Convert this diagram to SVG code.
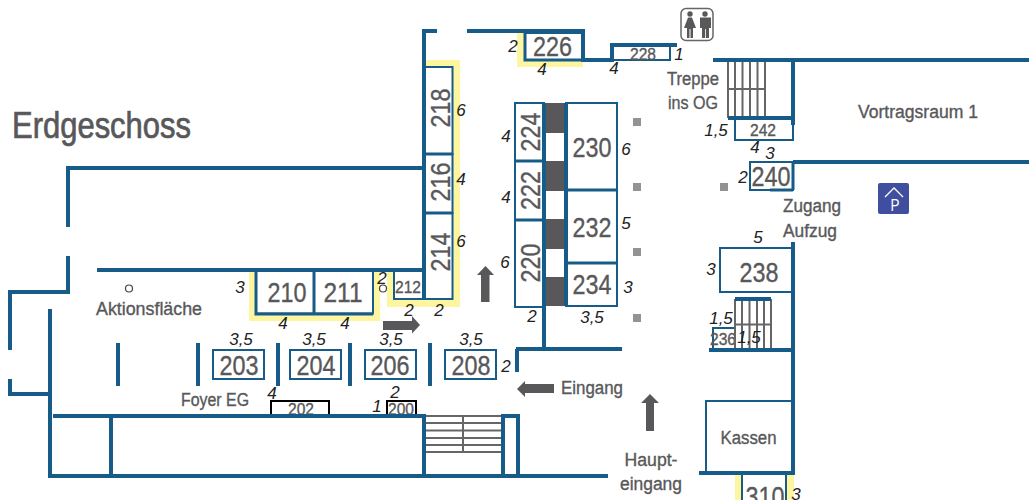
<svg xmlns="http://www.w3.org/2000/svg" width="1029" height="500" viewBox="0 0 1029 500">
<style>
text{font-family:"Liberation Sans",Arial,sans-serif;fill:#58585a;stroke:#58585a;stroke-width:.35}
.w{fill:none;stroke:#175c88;stroke-width:4}
.w3{fill:none;stroke:#175c88;stroke-width:3}
.r{fill:#fff;stroke:#175c88;stroke-width:2}
.k{fill:#fff;stroke:#000;stroke-width:2}
.s{fill:none;stroke:#666;stroke-width:2}
.y{fill:#fdf5a0}
.d{fill:#58585a}
.g{fill:#939393}
.n{font-size:27px;text-anchor:middle}
.m{font-size:17px;text-anchor:middle}
.l{font-size:18px;text-anchor:middle}
.c{font-size:17px;font-style:italic;fill:#222;stroke:none;text-anchor:middle}
</style>
<g id="yellow">
<path class="y" d="M249 271H380V321H249Z"/>
<path class="y" d="M387 271V307H460V60H425V271Z"/>
<path class="y" d="M517 33H583V67H517Z"/>
<path class="y" d="M735 475H794V500H735Z"/>
</g>
<g id="dark">
<rect class="d" x="546" y="103" width="18" height="30"/>
<rect class="d" x="546" y="161" width="18" height="30"/>
<rect class="d" x="546" y="219" width="18" height="30"/>
<rect class="d" x="546" y="277" width="18" height="29"/>
<rect class="g" x="633" y="118" width="8" height="8"/>
<rect class="g" x="633" y="183" width="8" height="8"/>
<rect class="g" x="633" y="248" width="8" height="8"/>
<rect class="g" x="633" y="314" width="8" height="8"/>
<rect class="g" x="720" y="183" width="8" height="8"/>
</g>
<g id="room-210"><rect class="r" x="256" y="270" width="58" height="43.500"/><text class="n" x="287" y="302" textLength="39" lengthAdjust="spacingAndGlyphs">210</text></g>
<g id="room-211"><rect class="r" x="314" y="270" width="59" height="43.500"/><text class="n" x="343" y="302" textLength="39" lengthAdjust="spacingAndGlyphs">211</text></g>
<g id="room-212"><rect class="r" x="394" y="271" width="30" height="28"/><text class="m" x="408" y="293" textLength="26" lengthAdjust="spacingAndGlyphs">212</text></g>
<g id="room-214"><rect class="r" x="424" y="213" width="28.500" height="86"/><text class="n" transform="translate(450 252) rotate(-90)" textLength="39" lengthAdjust="spacingAndGlyphs">214</text></g>
<g id="room-216"><rect class="r" x="424" y="154" width="28.500" height="59"/><text class="n" transform="translate(450 182) rotate(-90)" textLength="39" lengthAdjust="spacingAndGlyphs">216</text></g>
<g id="room-218"><rect class="r" x="424" y="67" width="28.500" height="87"/><text class="n" transform="translate(450 108) rotate(-90)" textLength="39" lengthAdjust="spacingAndGlyphs">218</text></g>
<g id="room-220"><rect class="r" x="515" y="220" width="29" height="87"/><text class="n" transform="translate(540 263) rotate(-90)" textLength="39" lengthAdjust="spacingAndGlyphs">220</text></g>
<g id="room-222"><rect class="r" x="515" y="161" width="29" height="59"/><text class="n" transform="translate(540 190.500) rotate(-90)" textLength="39" lengthAdjust="spacingAndGlyphs">222</text></g>
<g id="room-224"><rect class="r" x="515" y="103" width="29" height="58"/><text class="n" transform="translate(540 132) rotate(-90)" textLength="39" lengthAdjust="spacingAndGlyphs">224</text></g>
<g id="room-226"><rect class="r" x="525" y="33" width="58" height="27"/><text class="n" x="552.500" y="56" textLength="39" lengthAdjust="spacingAndGlyphs">226</text></g>
<g id="room-228"><rect class="r" x="612" y="46" width="58" height="14"/><text class="m" x="643" y="60" textLength="26" lengthAdjust="spacingAndGlyphs">228</text></g>
<g id="room-230"><rect class="r" x="566" y="103" width="51" height="87"/><text class="n" x="592" y="157" textLength="39" lengthAdjust="spacingAndGlyphs">230</text></g>
<g id="room-232"><rect class="r" x="566" y="190" width="51" height="73"/><text class="n" x="592" y="237" textLength="39" lengthAdjust="spacingAndGlyphs">232</text></g>
<g id="room-234"><rect class="r" x="566" y="263" width="51" height="43"/><text class="n" x="592" y="294" textLength="39" lengthAdjust="spacingAndGlyphs">234</text></g>
<g id="room-203"><rect class="r" x="213" y="350" width="51" height="29"/><text class="n" x="239" y="375" textLength="39" lengthAdjust="spacingAndGlyphs">203</text></g>
<g id="room-204"><rect class="r" x="290" y="350" width="51" height="29"/><text class="n" x="316" y="375" textLength="39" lengthAdjust="spacingAndGlyphs">204</text></g>
<g id="room-206"><rect class="r" x="365" y="350" width="51" height="29"/><text class="n" x="390" y="375" textLength="39" lengthAdjust="spacingAndGlyphs">206</text></g>
<g id="room-208"><rect class="r" x="445" y="350" width="51" height="29"/><text class="n" x="471" y="375" textLength="39" lengthAdjust="spacingAndGlyphs">208</text></g>
<g id="room-202"><rect class="k" x="271" y="401" width="58" height="15"/><text class="m" x="301" y="415" textLength="26" lengthAdjust="spacingAndGlyphs">202</text></g>
<g id="room-200"><rect class="k" x="387" y="401" width="29" height="15"/><text class="m" x="401" y="415" textLength="26" lengthAdjust="spacingAndGlyphs">200</text></g>
<g id="room-238"><rect class="r" x="720" y="248" width="73" height="44"/><text class="n" x="759" y="282" textLength="39" lengthAdjust="spacingAndGlyphs">238</text></g>
<g id="room-236"><rect class="r" x="713" y="328" width="22" height="22"/><text class="m" x="723" y="345" textLength="26" lengthAdjust="spacingAndGlyphs">236</text></g>
<g id="room-240"><rect class="r" x="750" y="162" width="43" height="28"/><text class="n" x="771" y="186" textLength="39" lengthAdjust="spacingAndGlyphs">240</text></g>
<g id="room-242"><rect class="r" x="735" y="118" width="58" height="22"/><text class="m" x="763" y="136" textLength="26" lengthAdjust="spacingAndGlyphs">242</text></g>
<g id="room-kassen"><rect class="r" x="706" y="401" width="87" height="72"/><text class="l" x="748.500" y="444" textLength="56" lengthAdjust="spacingAndGlyphs">Kassen</text></g>
<g id="room-310"><rect class="r" x="742" y="473" width="44" height="40"/><text class="n" x="765" y="506" textLength="39" lengthAdjust="spacingAndGlyphs">310</text></g>
<g id="stairs">
<path class="s" d="M424 416H503M424 423H503M424 430.500H503M424 438H503M424 445H503M424 452H503M463 416V452"/>
<path class="s" d="M728 60V118M735 60V118M742.500 60V118M750 60V118M757.500 60V118M765 60V118M728 89H765"/>
<path class="s" d="M735 299V350M742 299V350M749.500 299V350M757 299V350M764 299V350M771 299V350M735 324.500H771"/>
</g>
<g id="walls">
<path class="w" d="M68 227V168H424M68 256V292H10V350M10 379V394H50M50 309V476H608M53 416H424V476M111 416V476M97 270H424M424 300V31H437M467 31H583V60H612V45H677M713 60H1029M793 60V125M728 118H793M793 162H1029M793 242V475M735 299H771M709 350H793M699 473H793M544 103V349M566 103V306M516 349H622M517 349V372M503 474V416H518V474M118 343V386M198 343V386M278 343V386M350 343V386M430 343V386"/>
<path class="w3" d="M256 270V314H373M314 270V314M424 154H452M424 213H452M515 161H544M515 220H544M566 190H617M566 263H617M793 162V190M770 190H793M525 33V60H583"/>
</g>
<g id="arrows">
<path class="d" d="M481 302V275H477L485.500 266L494 275H489.500V302Z"/>
<path class="d" d="M383 321H412V316L420 325L412 333.500V330H383Z"/>
<path class="d" d="M554 384H525V381L517 389L525 397V393H554Z"/>
<path class="d" d="M646 431V403H641L650 394L659 403H654V431Z"/>
</g>
<g id="markers">
<circle cx="129" cy="288.500" r="3.500" fill="#fff" stroke="#444" stroke-width="1.200"/>
<circle cx="383" cy="288.500" r="3.500" fill="#fff" stroke="#444" stroke-width="1.200"/>
</g>
<g id="wc">
<rect x="681" y="8.500" width="32" height="32" rx="5" fill="#fff" stroke="#666" stroke-width="1.500"/>
<circle cx="690" cy="14" r="2.700" fill="#58585a"/><path class="d" d="M688 17.500H692L696 28H693V38H690.500V29H689.500V38H687V28H684Z"/>
<circle cx="705" cy="14" r="2.700" fill="#58585a"/><path class="d" d="M700 17.500H711V28H709V38H705.800V29H705V38H702V28H700Z"/>
</g>
<g id="parking">
<rect x="878" y="183" width="31" height="31" rx="2" fill="#3f4e9e"/>
<path d="M885 197L894 188L903 197" fill="none" stroke="#fff" stroke-width="1.300"/>
<text x="895" y="211" font-size="17" text-anchor="middle" style="fill:#fff;stroke:none" textLength="9" lengthAdjust="spacingAndGlyphs">P</text>
</g>
<g id="labels">
<text x="12" y="138" font-size="36" style="stroke-width:.7" textLength="179" lengthAdjust="spacingAndGlyphs">Erdgeschoss</text>
<text class="l" x="149" y="315" textLength="106" lengthAdjust="spacingAndGlyphs">Aktionsfläche</text>
<text class="l" x="215" y="406" textLength="68" lengthAdjust="spacingAndGlyphs">Foyer EG</text>
<text class="l" x="592" y="394" textLength="62" lengthAdjust="spacingAndGlyphs">Eingang</text>
<text class="l" x="651" y="466" textLength="53" lengthAdjust="spacingAndGlyphs">Haupt-</text>
<text class="l" x="651" y="490" textLength="62" lengthAdjust="spacingAndGlyphs">eingang</text>
<text class="l" x="693" y="85" textLength="52" lengthAdjust="spacingAndGlyphs">Treppe</text>
<text class="l" x="693" y="109" textLength="50" lengthAdjust="spacingAndGlyphs">ins OG</text>
<text class="l" x="812" y="212" textLength="58" lengthAdjust="spacingAndGlyphs">Zugang</text>
<text class="l" x="810" y="237" textLength="54" lengthAdjust="spacingAndGlyphs">Aufzug</text>
<text class="l" x="918" y="118" textLength="120" lengthAdjust="spacingAndGlyphs">Vortragsraum 1</text>
</g>
<g id="capacities">
<text class="c" x="240" y="293">3</text><text class="c" x="283" y="329">4</text><text class="c" x="345" y="329">4</text>
<text class="c" x="382" y="284">2</text><text class="c" x="409" y="316">2</text><text class="c" x="439" y="316">2</text>
<text class="c" x="461" y="116">6</text><text class="c" x="461" y="185">4</text><text class="c" x="461" y="247">6</text>
<text class="c" x="513" y="52">2</text><text class="c" x="542" y="75">4</text><text class="c" x="614" y="74">4</text><text class="c" x="679" y="60">1</text>
<text class="c" x="506" y="142">4</text><text class="c" x="506" y="203">4</text><text class="c" x="505" y="268">6</text><text class="c" x="532" y="322">2</text>
<text class="c" x="626" y="155">6</text><text class="c" x="626" y="229">5</text><text class="c" x="628" y="293">3</text><text class="c" x="592" y="323">3,5</text>
<text class="c" x="241" y="345">3,5</text><text class="c" x="314" y="345">3,5</text><text class="c" x="391" y="345">3,5</text><text class="c" x="471" y="345">3,5</text>
<text class="c" x="506" y="372">2</text><text class="c" x="272" y="399">4</text><text class="c" x="395" y="398">2</text><text class="c" x="377" y="412">1</text>
<text class="c" x="716" y="136">1,5</text><text class="c" x="755" y="153">4</text><text class="c" x="770" y="159">3</text><text class="c" x="743" y="183">2</text>
<text class="c" x="758" y="243">5</text><text class="c" x="711" y="275">3</text><text class="c" x="721" y="324">1,5</text><text class="c" x="749" y="343">1,5</text>
<text class="c" x="796" y="500">3</text>
</g>
</svg>
